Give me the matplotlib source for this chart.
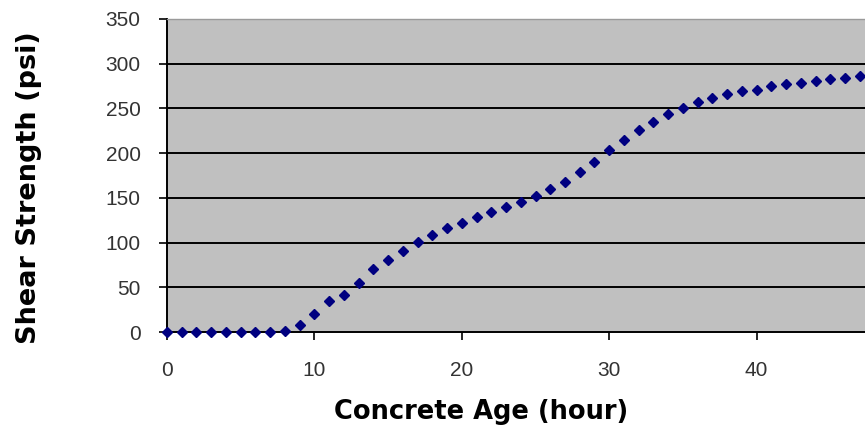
### Shear strength of concrete vs age, scatter with diamond markers
import matplotlib
matplotlib.use('Agg')
import matplotlib.pyplot as plt

hours = list(range(48))
strength = [0, 0, 0, 0, 0, 0, 0, 0, 1, 8,
            20, 35, 41, 55, 70, 81, 91, 101, 109, 116,
            122, 129, 134, 140, 145, 152, 160, 168, 179, 190,
            203, 215, 226, 235, 244, 251, 257, 262, 266, 270,
            271, 275, 277, 278, 281, 283, 284, 286]

xticks = [0, 10, 20, 30, 40]
yticks = [0, 50, 100, 150, 200, 250, 300, 350]

W, H = 865, 434
fig = plt.figure(figsize=(W/100, H/100), dpi=100)
fig.patch.set_facecolor('white')

##### plot area in pixels: left 167, right 865, top 19, bottom 332
ax = fig.add_axes([167/W, 1-332/H, (865-167)/W, (332-19)/H])
ax.set_facecolor('#c0c0c0')

ax.plot(hours, strength, linestyle='none', marker='D', markersize=5.2,
        color='#000080', clip_on=False, zorder=5)

ax.set_xlim(0, 47.35)
ax.set_ylim(0, 350)
ax.set_xticks(xticks)
ax.set_yticks(yticks)

##### black horizontal grid lines (not at the top)
for yv in yticks[1:-1]:
    ax.axhline(yv, color='black', linewidth=1.4, zorder=1)

for s in ['left', 'bottom']:
    ax.spines[s].set_color('black')
    ax.spines[s].set_linewidth(1.4)
ax.spines['top'].set_color('#9a9a9a')
ax.spines['top'].set_linewidth(1.0)
ax.spines['right'].set_visible(False)

ax.tick_params(axis='y', direction='out', length=6, width=1.2, pad=13,
               labelsize=15, labelcolor='#333333', color='black')
ax.tick_params(axis='x', direction='out', length=6, width=1.2, pad=15,
               labelsize=15, labelcolor='#333333', color='black')
for lab in ax.get_xticklabels() + ax.get_yticklabels():
    lab.set_fontfamily('Liberation Sans')

##### axis titles placed by pixel position
fig.text(481/W, 1-412/H, 'Concrete Age (hour)', ha='center', va='center',
         fontsize=18.5, fontweight='bold', family='DejaVu Sans', color='black')
fig.text(29/W, 1-188/H, 'Shear Strength (psi)', ha='center', va='center',
         rotation=90, fontsize=19.5, fontweight='bold', family='DejaVu Sans',
         color='black')

fig.savefig('out.png', dpi=100)
